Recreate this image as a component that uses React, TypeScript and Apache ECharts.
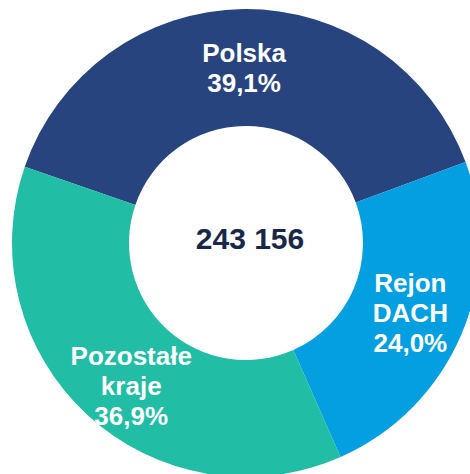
import React, { useEffect, useRef } from "react";
import * as echarts from "echarts";

const categories = ["Polska", "Rejon\nDACH", "Pozostałe\nkraje"];
const shares = [39.1, 24.0, 36.9];
const colors = ["#28447F", "#039FE0", "#21BDA5"];
const totalLabel = "243 156";

export default function App() {
  const ref = useRef<HTMLDivElement>(null);
  useEffect(() => {
    if (!ref.current) return;
    const chart = echarts.init(ref.current, null, { renderer: "svg" });
    const nudges = [
      { dx: 0, dy: 3 },
      { dx: 0, dy: 0 },
      { dx: 6, dy: 12 },
    ];
    chart.setOption({
      animation: false,
      series: [
        {
          type: "pie",
          center: [246, 243],
          radius: [117, 234],
          startAngle: 161,
          clockwise: true,
          avoidLabelOverlap: false,
          itemStyle: { borderWidth: 0 },
          label: {
            show: true,
            position: "inside",
            color: "#ffffff",
            fontFamily: "Liberation Sans, Arial, sans-serif",
            fontWeight: "bold",
            fontSize: 26,
            lineHeight: 30,
            formatter: (p: any) =>
              `${p.name}\n${Number(p.value).toFixed(1).replace(".", ",")}%`,
          },
          labelLayout: (params: any) => nudges[params.dataIndex],
          labelLine: { show: false },
          emphasis: { disabled: true },
          data: categories.map((c, i) => ({
            name: c,
            value: shares[i],
            itemStyle: { color: colors[i] },
          })),
        },
      ],
      graphic: [
        {
          type: "text",
          x: 250,
          y: 238,
          style: {
            text: totalLabel,
            fill: "#172849",
            font: "bold 30px 'Liberation Sans', Arial, sans-serif",
            textAlign: "center",
            textVerticalAlign: "middle",
          },
        },
      ],
    });
    return () => chart.dispose();
  }, []);
  return (
    <div
      ref={ref}
      style={{ position: "absolute", left: 0, top: 0, width: 470, height: 474 }}
    />
  );
}
